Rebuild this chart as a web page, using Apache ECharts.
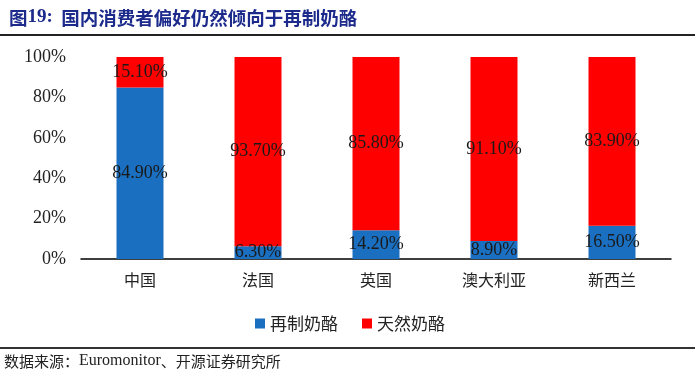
<!DOCTYPE html>
<html><head><meta charset="utf-8">
<script src="https://cdn.jsdelivr.net/npm/echarts@6/dist/echarts.min.js"></script>
<style>html,body{margin:0;padding:0;background:#fff}#c{width:700px;height:379px}</style>
</head><body><div id="c"></div>
<script>
const categories = ['中国', '法国', '英国', '澳大利亚', '新西兰'];
const processed = [84.9, 6.3, 14.2, 8.9, 16.5];
const natural = [15.1, 93.7, 85.8, 91.1, 83.9];
const seriesNames = ['再制奶酪', '天然奶酪'];
const yTicks = [0, 20, 40, 60, 80, 100];

const serif = '"Liberation Serif","DejaVu Serif",serif';
const cjk = '"Noto Sans CJK SC",sans-serif';
const chart = echarts.init(document.getElementById('c'));
const lbl = {show: true, position: 'inside', color: '#1a1a1a', fontFamily: serif, fontSize: 18,
  formatter: p => p.value.toFixed(2) + '%'};
chart.setOption({
  animation: false,
  title: {text: '{a|图}{b|19:}{a|  国内消费者偏好仍然倾向于再制奶酪}', left: 4, top: 3,
    textStyle: {rich: {
      a: {color: '#1c2a8c', fontSize: 18.5, fontWeight: 'bold', fontFamily: cjk},
      b: {color: '#1c2a8c', fontSize: 19, fontWeight: 'bold', fontFamily: serif}
    }}},
  graphic: [
    {type: 'line', shape: {x1: 0, y1: 35, x2: 695, y2: 35}, style: {stroke: '#222', lineWidth: 2}},
    {type: 'line', shape: {x1: 0, y1: 348, x2: 695, y2: 348}, style: {stroke: '#333', lineWidth: 2}},
    {type: 'text', left: 4, top: 353, style: {
      text: '{a|数据来源：}{b|Euromonitor}{a|、开源证券研究所}',
      rich: {a: {fill: '#222', fontSize: 15, fontFamily: cjk}, b: {fill: '#222', fontSize: 16, fontFamily: serif}}}}
  ],
  legend: {data: seriesNames, top: 310, left: 'center', itemWidth: 10, itemHeight: 10, itemGap: 24, icon: 'rect',
    textStyle: {fontFamily: cjk, fontSize: 17, color: '#222'}},
  grid: {left: 81, right: 29, top: 57, bottom: 120},
  xAxis: {type: 'category', data: categories,
    axisLine: {lineStyle: {color: '#000', width: 1.5}}, axisTick: {show: false},
    axisLabel: {fontFamily: cjk, fontSize: 16, color: '#222', margin: 13}},
  yAxis: {type: 'value', min: 0, max: 100, interval: 20,
    splitLine: {show: false}, axisLine: {show: false}, axisTick: {show: false},
    axisLabel: {formatter: v => yTicks.includes(v) ? v + '%' : '', fontFamily: serif, fontSize: 18, color: '#222', margin: 15}},
  series: [
    {name: seriesNames[0], type: 'bar', stack: 's', data: processed, barWidth: 47, itemStyle: {color: '#1a6fc0'}, label: lbl},
    {name: seriesNames[1], type: 'bar', stack: 's', data: natural, barWidth: 47, itemStyle: {color: '#ff0000'}, label: lbl}
  ]
});
</script></body></html>
